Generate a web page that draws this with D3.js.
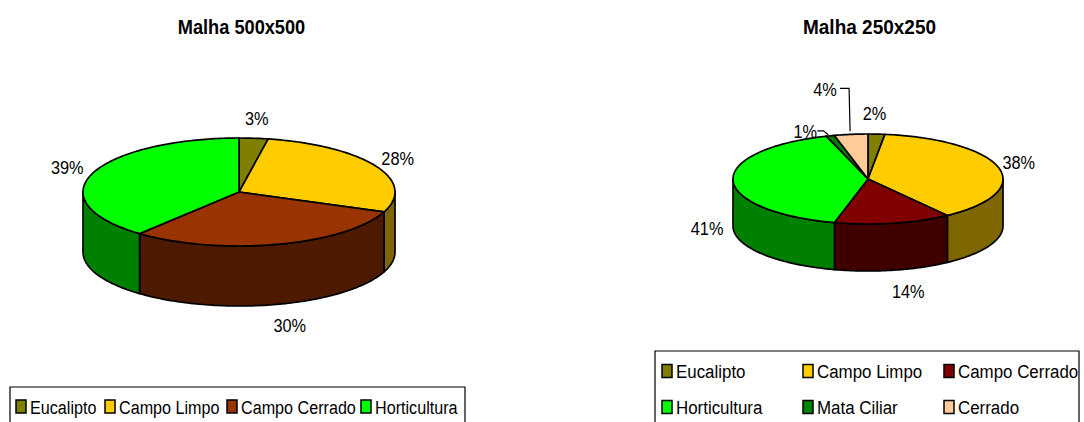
<!DOCTYPE html>
<html><head><meta charset="utf-8">
<script src="https://cdn.jsdelivr.net/npm/d3@7"></script>
<style>html,body{margin:0;padding:0;background:#fff;overflow:hidden}svg{display:block}text{font-family:"Liberation Sans",Arial,sans-serif;fill:#000}</style>
</head><body><svg id="c" width="1084" height="422"></svg>
<script>
const categoriesA = ["Eucalipto","Campo Limpo","Campo Cerrado","Horticultura"];
const valuesA = [3,28,30,39];
const colorsA = ["#808000","#ffcc00","#993300","#00ff00"];
const sidesA = ["#666600","#806600","#4d1a00","#008000"];
const categoriesB = ["Eucalipto","Campo Limpo","Campo Cerrado","Horticultura","Mata Ciliar","Cerrado"];
const valuesB = [2,38,14,41,1,4];
const colorsB = ["#808000","#ffcc00","#800000","#00ff00","#008000","#ffcc99"];
const sidesB = ["#404000","#806600","#400000","#008000","#004000","#806650"];

const svg = d3.select("#c");
function label(g,s,x,y,opt={}){
  return g.append("text").attr("text-anchor",opt.anchor||"middle")
    .attr("transform",`translate(${x},${y}) scale(${opt.sx||0.86},1)`)
    .attr("font-size",opt.size||19).attr("font-weight",opt.weight||"normal").text(s);
}
function pie3d(cfg){
  const g = svg.append("g");
  const {cx,cy,rx,ry,depth,values,colors,sides} = cfg;
  const arcs = d3.pie().sort(null)(values);
  const X = d3.scaleLinear().domain([-1,1]).range([cx-rx,cx+rx]);
  const Y = d3.scaleLinear().domain([-1,1]).range([cy-ry,cy+ry]);
  const pt = (t,dz=0)=>[X(Math.sin(t)),Y(-Math.cos(t))+dz];
  const samples = (a,b,dz)=>{const n=Math.max(2,Math.ceil((b-a)/0.02));return d3.range(n+1).map(i=>pt(a+(b-a)*i/n,dz));};
  const line = d3.line();
  arcs.forEach((a,i)=>{
    const s=Math.max(a.startAngle,Math.PI/2), e=Math.min(a.endAngle,Math.PI*1.5);
    if(e<=s) return;
    const pts=[...samples(s,e,0),...samples(s,e,depth).reverse()];
    g.append("path").attr("d",line(pts)+"Z").attr("fill",sides[i]).attr("stroke","#000").attr("stroke-width",1.7).attr("stroke-linejoin","round");
  });
  arcs.forEach((a,i)=>{
    const pts=[[X(0),Y(0)],...samples(a.startAngle,a.endAngle,0)];
    g.append("path").attr("d",line(pts)+"Z").attr("fill",colors[i]).attr("stroke","#000").attr("stroke-width",1.7).attr("stroke-linejoin","round");
  });
  arcs.forEach((a,i)=>{
    const [px,py]=pt((a.startAngle+a.endAngle)/2);
    const [dx,dy]=cfg.labelOffsets[i];
    label(g,values[i]+"%",px+dx,py+dy);
  });
  (cfg.leaders||[]).forEach(l=>{
    const a=arcs[l.i], [ex,ey]=pt((a.startAngle+a.endAngle)/2);
    g.append("path").attr("fill","none").attr("stroke","#000").attr("stroke-width",1.2)
      .attr("d",line([[ex+l.ex,ey+l.ey],[ex+l.ex+l.bx,ey+l.ey+l.by],[ex+l.ex+l.bx+l.hx,ey+l.ey+l.by]]));
  });
  label(g,cfg.title,cfg.titleX,34,{weight:"bold",size:20,sx:cfg.titleSx});
}
function legend(box,cats,colors,cols,rowYs,sx){
  const g=svg.append("g");
  g.append("path").attr("fill","#fff").attr("stroke","#000").attr("stroke-width",1.2)
    .attr("d",`M${box.x0},423V${box.y}H${box.x1}V423`);
  cats.forEach((c,i)=>{
    const col=i%cols.length,row=Math.floor(i/cols.length);
    const x=cols[col],y=rowYs[row];
    g.append("rect").attr("x",x).attr("y",y-12.5).attr("width",10).attr("height",13)
      .attr("fill",colors[i]).attr("stroke","#000").attr("stroke-width",1.5);
    label(g,c,x+14,y+1,{anchor:"start",sx});
  });
}
pie3d({cx:239,cy:192,rx:156,ry:54,depth:60,values:valuesA,colors:colorsA,sides:sidesA,title:"Malha 500x500",titleX:241.5,titleSx:0.91,
  labelOffsets:[[3,-13],[22,-1],[12,88],[-25,0]]});
pie3d({cx:868,cy:179,rx:135,ry:45,depth:47,values:valuesB,colors:colorsB,sides:sidesB,title:"Malha 250x250",titleX:869.5,titleSx:0.95,
  labelOffsets:[[-2,-14],[20,1],[15,75],[-26,55],[-25,2],[-26,-38]],
  leaders:[{i:5,ex:-1,ey:-3,bx:-1,by:-43,hx:-9},{i:4,ex:-2,ey:-1,bx:-5,by:-4,hx:-6}]});
legend({x0:10,x1:465,y:387},categoriesA,colorsA,[16,105,227,361],[412.5],0.85);
legend({x0:655,x1:1079,y:351},categoriesB,colorsB,[662,803,944],[377,413],0.89);
</script></body></html>
